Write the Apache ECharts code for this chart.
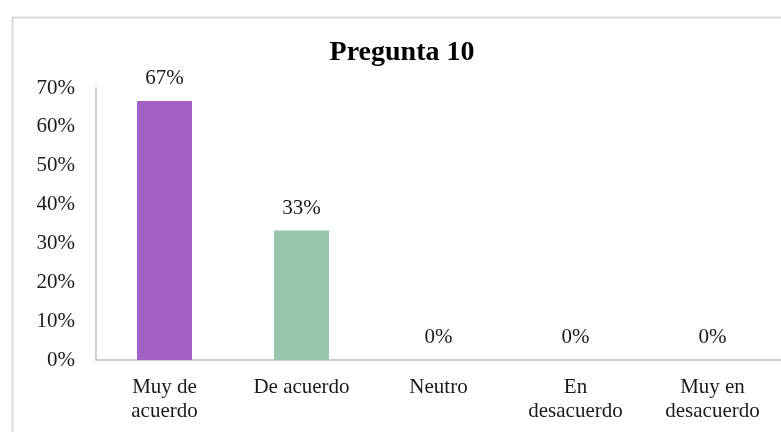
<!DOCTYPE html>
<html>
<head>
<meta charset="utf-8">
<script src="https://cdn.jsdelivr.net/npm/echarts@6/dist/echarts.min.js"></script>
<style>
html,body{margin:0;padding:0;background:#fff;}
#main{width:781px;height:432px;}
</style>
</head>
<body>
<div id="main"></div>
<script>
const titleText = 'Pregunta 10';
const categories = ['Muy de\nacuerdo', 'De acuerdo', 'Neutro', 'En\ndesacuerdo', 'Muy en\ndesacuerdo'];
const values = [0.6667, 0.3333, 0, 0, 0];
const barColors = ['#A361C7', '#96C6AE', '#A361C7', '#A361C7', '#A361C7'];
const yTicks = { min: 0, max: 0.7, interval: 0.1 };

const FONT = '"Liberation Serif", "Times New Roman", serif';
const chart = echarts.init(document.getElementById('main'));
chart.setOption({
  animation: false,
  backgroundColor: '#fff',
  graphic: [{
    type: 'rect', left: 10, top: 15, silent: true,
    shape: { width: 800, height: 440 },
    style: { fill: 'none', stroke: '#d9d9d9', lineWidth: 2 }
  }, {
    type: 'text', x: 402, y: 53, silent: true,
    style: {
      text: titleText, align: 'center', verticalAlign: 'middle',
      font: 'bold 28px ' + FONT, fill: '#000'
    }
  }],
  grid: { left: 96, right: 0, top: 88, bottom: 72, containLabel: false },
  xAxis: {
    type: 'category',
    data: categories,
    axisLine: { show: true, lineStyle: { color: '#bfbfbf', width: 1.5 } },
    axisTick: { show: false },
    axisLabel: { fontFamily: FONT, fontSize: 21, color: '#1a1a1a', margin: 15, lineHeight: 24, interval: 0 }
  },
  yAxis: {
    type: 'value',
    min: yTicks.min, max: yTicks.max, interval: yTicks.interval,
    axisLine: { show: true, lineStyle: { color: '#bfbfbf', width: 1.5 } },
    axisTick: { show: false },
    splitLine: { show: false },
    axisLabel: {
      fontFamily: FONT, fontSize: 21, color: '#1a1a1a', margin: 21,
      formatter: v => Math.round(v * 100) + '%'
    }
  },
  series: [{
    type: 'bar',
    barWidth: 55,
    data: values.map((v, i) => ({ value: v, itemStyle: { color: barColors[i] } })),
    label: {
      show: true, position: 'top', distance: 12,
      fontFamily: FONT, fontSize: 21, color: '#1a1a1a',
      formatter: p => Math.round(p.value * 100) + '%'
    }
  }]
});
</script>
</body>
</html>
